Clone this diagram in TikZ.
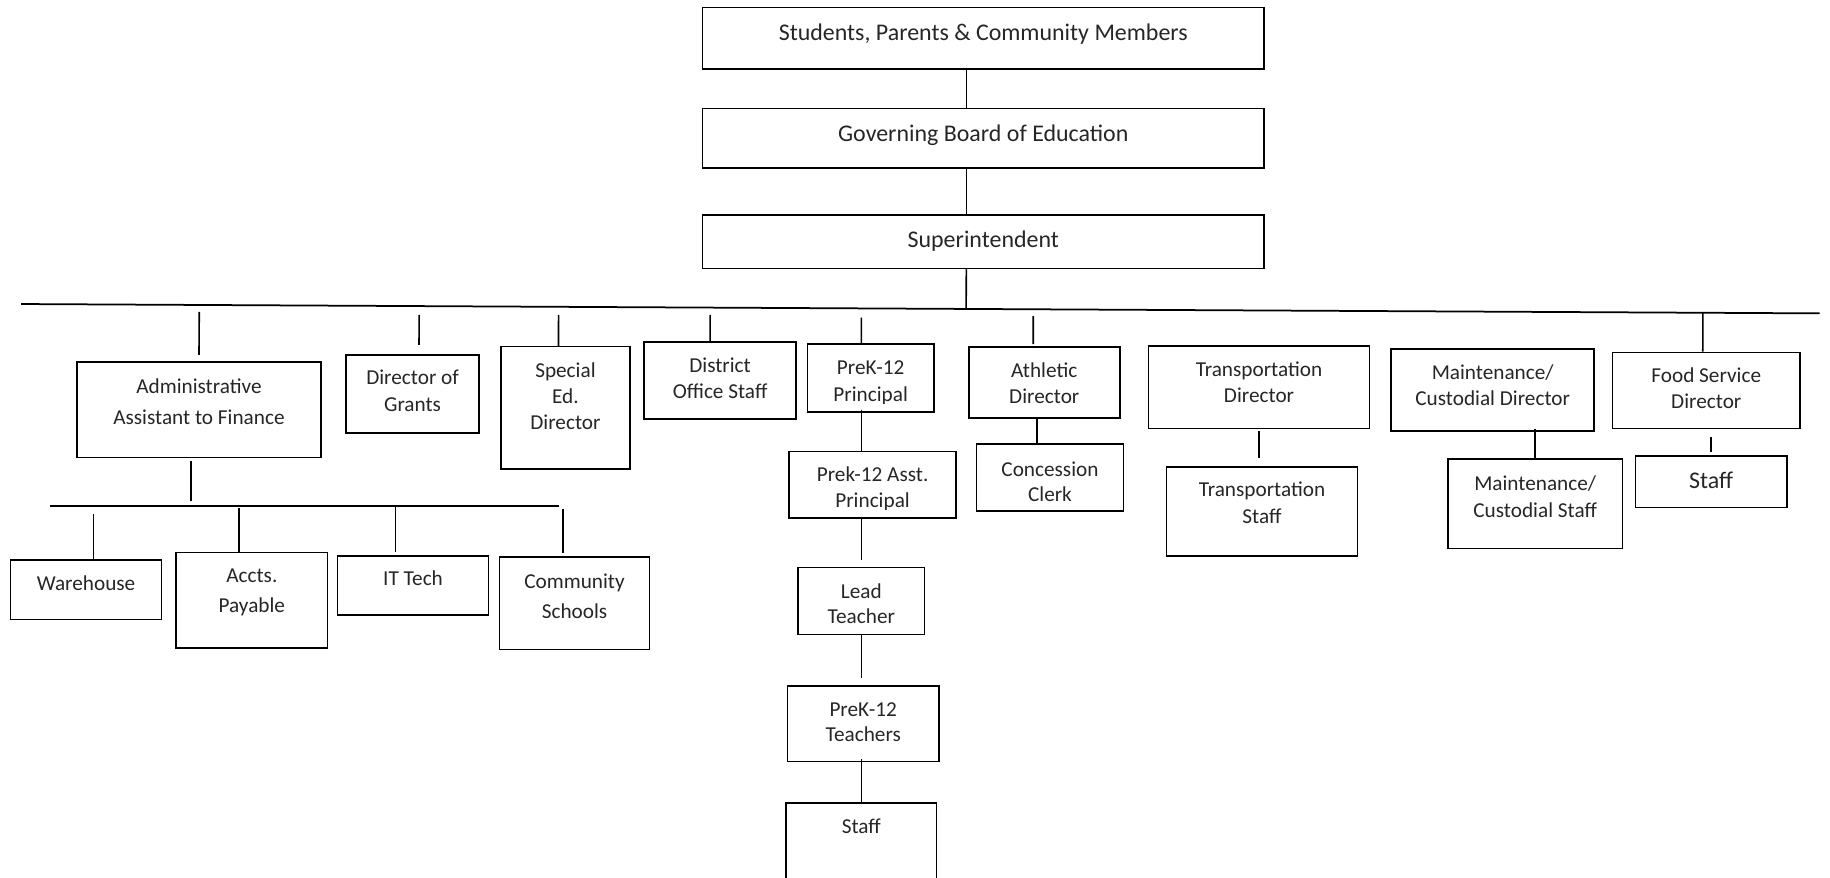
\documentclass[tikz,border=0pt]{standalone}
\usepackage{fontspec}
\setmainfont{Carlito}
\usetikzlibrary{calc}

\begin{document}
\begin{tikzpicture}[x=1pt,y=-1pt,
box/.style = {draw, line width=1.4pt, inner sep=0pt},
txt/.style = {align=center, inner sep=0pt, text=black!85, font=\fontsize{18.2}{22.5}\selectfont},
wide/.style = {txt, font=\fontsize{18.2}{25.5}\selectfont},
big/.style = {txt, font=\fontsize{20.5}{24}\selectfont},
link/.style = {line width=1.4pt}]

\useasboundingbox (0,0) rectangle (1568,752);

% top of the chart
\node[box, minimum width=481pt, minimum height=52.5pt] (1) at (842.5,32.75) {};
\node[box, minimum width=481pt, minimum height=51pt] (2) at (842.5,118.5) {};
\node[box, minimum width=481pt, minimum height=46pt] (3) at (842.5,207) {};
\node[big] (t1) at (842.5,29.5) {Students, Parents \& Community Members};
\node[big] (t2) at (842.5,116) {Governing Board of Education};
\node[big] (t3) at (842.5,206.5) {Superintendent};

% second row
\node[box, minimum width=209pt, minimum height=82pt] (4) at (170.5,351) {};
\node[box, minimum width=114pt, minimum height=67pt] (5) at (353.5,337.5) {};
\node[box, minimum width=111pt, minimum height=105pt] (6) at (484.5,349.5) {};
\node[box, minimum width=130pt, minimum height=66pt] (7) at (617,326) {};
\node[box, minimum width=108pt, minimum height=58pt] (8) at (746,324) {};
\node[box, minimum width=129.5pt, minimum height=60.5pt] (9) at (894.75,327.75) {};
\node[box, minimum width=189.5pt, minimum height=70.8pt] (10) at (1078.75,331.9) {};
\node[box, minimum width=174pt, minimum height=70pt] (11) at (1279,334.3) {};
\node[box, minimum width=161pt, minimum height=65pt] (12) at (1462,334.5) {};

\node[wide, font=\fontsize{18.2}{26.5}\selectfont] (t4) at (170.5,344) {Administrative\\Assistant to Finance};
\node[txt, font=\fontsize{18.2}{23}\selectfont] (t5) at (353.5,335) {Director of\\Grants};
\node[txt] (t6) at (484.5,339.5) {Special\\Ed.\\Director};
\node[txt] (t7) at (617,324) {District\\Office Staff};
\begin{scope}
\clip (8.north west) rectangle ([yshift=8.4pt]8.south east);
\node[txt, font=\fontsize{18.2}{23}\selectfont] (t8) at (746,328.3) {PreK-12\\Principal};
\end{scope}
\node[txt] (t9) at (894.75,328.5) {Athletic\\Director};
\node[txt] (t10) at (1078.75,327.5) {Transportation\\Director};
\node[txt] (t11) at (1279,330.3) {Maintenance/\\Custodial Director};
\node[txt] (t12) at (1462,332.7) {Food Service\\Director};

% finance row
\node[box, minimum width=129.5pt, minimum height=50.7pt] (13) at (73.75,505.35) {};
\node[box, minimum width=129.6pt, minimum height=81.5pt] (14) at (215.8,514.25) {};
\node[box, minimum width=129.2pt, minimum height=50.6pt] (15) at (353.9,501.7) {};
\node[box, minimum width=128.6pt, minimum height=78.9pt] (16) at (492.3,516.95) {};
\node[txt] (t13) at (73.75,499.5) {Warehouse};
\node[wide] (t14) at (215.8,507.5) {Accts.\\Payable};
\node[txt] (t15) at (353.9,495.5) {IT Tech};
\node[wide] (t16) at (492.3,511) {Community\\Schools};

% school column
\node[box, minimum width=142.7pt, minimum height=57.1pt] (17) at (747.65,415.55) {};
\node[box, minimum width=108pt, minimum height=57.4pt] (18) at (738,514.8) {};
\node[box, minimum width=130pt, minimum height=64.8pt] (19) at (739.6,620.2) {};
\node[box, minimum width=129.1pt, minimum height=72.2pt] (20) at (738,723.9) {};
\begin{scope}
\clip (17.north west) rectangle ([yshift=8.6pt]17.south east);
\node[txt, font=\fontsize{18.2}{23}\selectfont] (t17) at (747.65,418.8) {Prek-12 Asst.\\Principal};
\end{scope}
\node[txt, font=\fontsize{18.2}{22}\selectfont] (t18) at (738,517.4) {Lead\\Teacher};
\node[txt, font=\fontsize{18.2}{21.5}\selectfont] (t19) at (739.6,618.6) {PreK-12\\Teachers};
\node[txt] (t20) at (738,707.9) {Staff};

% other staff
\node[box, minimum width=125.7pt, minimum height=57.4pt] (21) at (899.65,409.1) {};
\node[box, minimum width=163.4pt, minimum height=76.4pt] (22) at (1081.3,438.2) {};
\node[box, minimum width=149.8pt, minimum height=76.6pt] (23) at (1315.4,431.8) {};
\node[box, minimum width=129.9pt, minimum height=44pt] (24) at (1466.15,412.7) {};
\node[txt, font=\fontsize{18.2}{21}\selectfont] (t21) at (899.65,412.6) {Concession\\Clerk};
\node[txt] (t22) at (1081.3,430.7) {Transportation\\Staff};
\node[txt] (t23) at (1315.4,425.5) {Maintenance/\\Custodial Staff};
\node[big] (t24) at (1466.15,411.5) {Staff};

% lines
\coordinate (bl) at (18,260.5);
\coordinate (br) at (1559,268.5);
\coordinate (sl) at (42.8,433.3);
\coordinate (sr) at (479,433.3);
\coordinate (v) at (828,0);
\coordinate (v3) at (3.south -| v);
\coordinate (f4) at (4.north);
\coordinate (f5) at ([xshift=5.5pt]5.north);
\coordinate (f6) at ([xshift=-6pt]6.north);
\coordinate (f7) at ([xshift=-8.6pt]7.north);
\coordinate (f8) at (8.north -| 20.north);
\coordinate (f9) at ([xshift=-9.5pt]9.north);
\coordinate (f12) at ([xshift=-3pt]12.north);
\coordinate (g4) at ([xshift=-7pt]4.south);
\coordinate (f13) at ([xshift=6.25pt]13.north);
\coordinate (f14) at ([xshift=-11pt]14.north);
\coordinate (f15) at ([xshift=-15pt]15.north);
\coordinate (f16) at ([xshift=-10pt]16.north);

\draw[line width=1.5pt] (bl) -- (br);
\draw[link] (sl) -- (sr);

\path[link]
(1.south -| v) edge (2.north -| v)
(2.south -| v) edge (3.north -| v)
(v3) edge ($(bl)!(v3)!(br)$)
($(bl)!(f4)!(br)$) edge[shorten <=6pt, shorten >=5.2pt] (f4)
($(bl)!(f5)!(br)$) edge[shorten <=7.6pt, shorten >=7.8pt] (f5)
($(bl)!(f6)!(br)$) edge[shorten <=7pt] (f6)
($(bl)!(f7)!(br)$) edge[shorten <=6.2pt] (f7)
($(bl)!(f8)!(br)$) edge[shorten <=7.9pt] (f8)
($(bl)!(f9)!(br)$) edge[shorten <=5.8pt, shorten >=2pt] (f9)
($(bl)!(f12)!(br)$) edge (f12)
(g4) edge[shorten <=2.2pt, shorten >=4.3pt] ($(sl)!(g4)!(sr)$)
($(sl)!(f13)!(sr)$) edge[shorten <=7.1pt] (f13)
($(sl)!(f14)!(sr)$) edge[shorten <=2.3pt] (f14)
($(sl)!(f15)!(sr)$) edge[shorten <=1.2pt, shorten >=2.9pt] (f15)
($(sl)!(f16)!(sr)$) edge[shorten <=2.9pt, shorten >=2.8pt] (f16);

\path[link]
(8.south -| 20.north) edge[shorten <=-2.8pt] (17.north -| 20.north)
(17.south -| 18.north) edge[shorten <=-1.4pt, shorten >=5.7pt] (18.north)
(18.south) edge[shorten >=6.3pt] (18.south |- 19.north)
(19.south -| 20.north) edge[shorten <=-2.8pt] (20.north)
([xshift=-6pt]9.south) edge ([xshift=-6pt]9.south |- 21.north)
(10.south) edge[shorten <=1.1pt, shorten >=6.5pt] (10.south |- 22.north)
(11.south -| 23.north) edge[shorten <=-2.3pt] (23.north)
(12.south -| 24.north) edge[shorten <=6.6pt, shorten >=2.3pt] (24.north);
\end{tikzpicture}
\end{document}
